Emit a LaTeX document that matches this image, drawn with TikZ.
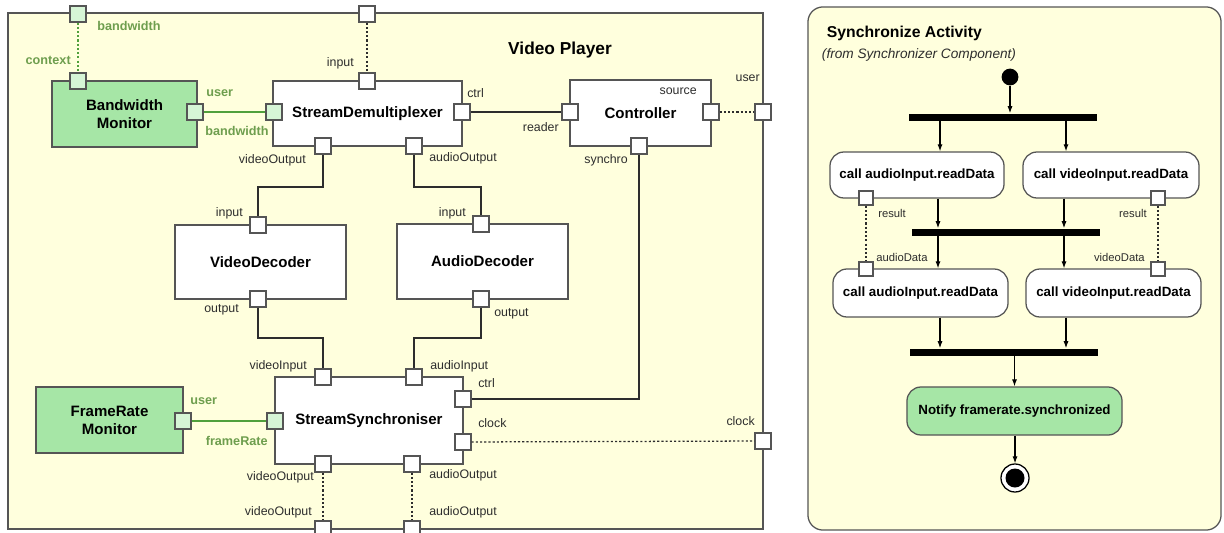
\documentclass[tikz,border=0pt]{standalone}
\usepackage{fontspec}
\setmainfont{Liberation Sans}
\usetikzlibrary{arrows.meta, positioning}
\definecolor{playerbg}{RGB}{255,255,221}
\definecolor{monitorgreen}{RGB}{166,230,166}
\definecolor{pingreen}{RGB}{214,245,214}
\definecolor{labelgreen}{RGB}{110,158,78}
\definecolor{linegreen}{RGB}{80,160,60}
\definecolor{edgegray}{RGB}{85,85,85}
\definecolor{textgray}{RGB}{45,45,45}

\begin{document}
\begin{tikzpicture}[
    x=0.025cm, y=-0.025cm,
    compbox/.style={draw=edgegray, line width=0.9pt, fill=white, align=center, inner sep=0pt, font=\fontsize{10.7}{12.8}\selectfont\bfseries},
    monbox/.style={compbox, fill=monitorgreen},
    port/.style={draw=edgegray, line width=0.8pt, fill=white, minimum size=0.4cm, inner sep=0pt},
    gport/.style={port, fill=pingreen},
    portlbl/.style={font=\fontsize{8.8}{10}\selectfont, text=textgray, inner sep=0pt},
    greenlbl/.style={font=\fontsize{9}{10}\selectfont\bfseries, text=labelgreen, inner sep=0pt},
    wire/.style={draw=textgray, line width=0.9pt},
    dotline/.style={wire, dash pattern=on 1.5pt off 1.5pt},
    greenwire/.style={draw=linegreen, line width=0.9pt},
    greendot/.style={greenwire, dash pattern=on 1.5pt off 1.5pt},
    actbox/.style={draw=edgegray, line width=0.9pt, fill=white, rounded corners=0.35cm, inner sep=0pt, minimum height=1.2cm, font=\fontsize{9.5}{11}\selectfont\bfseries},
    actpin/.style={draw=edgegray, line width=0.8pt, fill=white, minimum size=0.35cm, inner sep=0pt},
    forkbar/.style={fill=black, minimum width=4.7cm, minimum height=0.175cm, inner sep=0pt},
    pinlbl/.style={font=\fontsize{8}{9}\selectfont, text=textgray, inner sep=0pt},
    arrow/.style={-{Latex[length=5pt,width=3.6pt]}, line width=0.8pt}
]
\useasboundingbox (0,0) rectangle (1224,533);

% Video player
\node (player) [draw=edgegray, line width=0.9pt, fill=playerbg, minimum width=18.875cm, minimum height=12.9cm] at (385.5,271) {};
\node (title) [font=\fontsize{12.3}{14}\selectfont\bfseries] at (560,50) {Video Player};

\node (bwmon) [monbox, minimum width=3.625cm, minimum height=1.65cm] at (124.5,114) {Bandwidth\\Monitor};
\node (demux) [compbox, minimum width=4.725cm, minimum height=1.625cm] at (367.5,113.5) {StreamDemultiplexer};
\node (ctrlr) [compbox, minimum width=3.525cm, minimum height=1.65cm] at (640.5,113) {Controller};
\node (vdec) [compbox, minimum width=4.275cm, minimum height=1.85cm] at (260.5,262) {VideoDecoder};
\node (adec) [compbox, minimum width=4.275cm, minimum height=1.875cm] at (482.5,261.5) {AudioDecoder};
\node (sync) [compbox, minimum width=4.7cm, minimum height=2.175cm] at (369,420.5) {StreamSynchroniser};
\node (frmon) [monbox, minimum width=3.675cm, minimum height=1.65cm] at (109.5,420) {FrameRate\\Monitor};

% Ports
\node (pbw) [gport] at (78,14) {};
\node (pinput) [port] at (367,14) {};
\node (puser) [port] at (763,112) {};
\node (pclock) [port] at (763,441) {};
\node (pvout) [port] at (323,529) {};
\node (paout) [port] at (412,529) {};
\node (bwctx) [gport] at (78,81) {};
\node (bwuser) [gport] at (195,112) {};
\node (dxbw) [gport] at (274,112) {};
\node (dxin) [port] at (367,81) {};
\node (dxctrl) [port] at (462,112) {};
\node (dxvout) [port] at (323,146) {};
\node (dxaout) [port] at (414,146) {};
\node (ctreader) [port] at (570,112) {};
\node (ctsource) [port] at (711,112) {};
\node (ctsynchro) [port] at (639,146) {};
\node (vdin) [port] at (258,225) {};
\node (vdout) [port] at (258,299) {};
\node (adin) [port] at (481,224) {};
\node (adout) [port] at (481,299) {};
\node (syvin) [port] at (323,377) {};
\node (syain) [port] at (414,377) {};
\node (syctrl) [port] at (463,399) {};
\node (syclock) [port] at (463,442) {};
\node (syvout) [port] at (323,464) {};
\node (syaout) [port] at (412,464) {};
\node (syfr) [gport] at (275,421) {};
\node (frmuser) [gport] at (183,421) {};

% Port labels
\node [greenlbl, anchor=west] at (97,26) {bandwidth};
\node [greenlbl, anchor=east] at (71,60) {context};
\node [greenlbl, anchor=west] at (206,93) {user};
\node [greenlbl, anchor=west] at (205,131) {bandwidth};
\node [greenlbl, anchor=west] at (190,401) {user};
\node [greenlbl, anchor=east] at (268,441) {frameRate};
\node [portlbl, anchor=east] at (354,63) {input};
\node [portlbl, anchor=west] at (467,93) {ctrl};
\node [portlbl, anchor=east] at (306,160) {videoOutput};
\node [portlbl, anchor=west] at (429,158) {audioOutput};
\node [portlbl, anchor=east] at (559,127) {reader};
\node [portlbl, anchor=east] at (697,91) {source};
\node [portlbl, anchor=east] at (628,160) {synchro};
\node [portlbl, anchor=east] at (760,78) {user};
\node [portlbl, anchor=east] at (243,213) {input};
\node [portlbl, anchor=east] at (239,310) {output};
\node [portlbl, anchor=east] at (466,213) {input};
\node [portlbl, anchor=west] at (494,314) {output};
\node [portlbl, anchor=east] at (307,366) {videoInput};
\node [portlbl, anchor=west] at (430,366) {audioInput};
\node [portlbl, anchor=west] at (478,383) {ctrl};
\node [portlbl, anchor=west] at (478,423) {clock};
\node [portlbl, anchor=east] at (314,477) {videoOutput};
\node [portlbl, anchor=west] at (429,475) {audioOutput};
\node [portlbl, anchor=east] at (312,512) {videoOutput};
\node [portlbl, anchor=west] at (429,512) {audioOutput};
\node [portlbl, anchor=east] at (755,421) {clock};

% Connectors
\draw [greendot] (pbw) -- (bwctx);
\draw [greenwire] (bwuser) -- (dxbw);
\draw [greenwire] (frmuser) -- (syfr);
\draw [dotline] (pinput) -- (dxin);
\draw [wire] (dxctrl) -- (ctreader);
\draw [dotline] (ctsource) -- (puser);
\draw [wire] (dxvout.south) -- (dxvout.south |- 0,187) -| (vdin.north);
\draw [wire] (dxaout.south) -- (dxaout.south |- 0,187) -| (adin.north);
\draw [wire] (vdout.south) -- (vdout.south |- 0,338) -| (syvin.north);
\draw [wire] (adout.south) -- (adout.south |- 0,338) -| (syain.north);
\draw [wire] (ctsynchro.south) |- (syctrl.east);
\draw [dotline] (syclock) -- (pclock);
\draw [dotline] (syvout) -- (pvout);
\draw [dotline] (syaout) -- (paout);

% Activity
\node (activity) [draw=edgegray, line width=0.9pt, fill=playerbg, rounded corners=0.375cm, minimum width=10.325cm, minimum height=13.075cm] at (1014.5,268.5) {};
\node [anchor=west, font=\fontsize{11.2}{13}\selectfont\bfseries] at (822,33) {Synchronize Activity};
\node [anchor=west, font=\fontsize{9.7}{11}\selectfont\itshape, text=textgray] at (817,55) {(from Synchronizer Component)};

\node (init) [circle, fill=black, minimum size=0.42cm, inner sep=0pt] at (1010,77) {};
\node (fork1) [forkbar] at (1003,117) {};
\node (act1) [actbox, minimum width=4.35cm, minimum height=1.15cm] at (917,175) {call audioInput.readData};
\node (act2) [actbox, minimum width=4.4cm, minimum height=1.15cm] at (1111,175) {call videoInput.readData};
\node (fork2) [forkbar] at (1006,232) {};
\node (act3) [actbox, minimum width=4.375cm] at (920.5,293) {call audioInput.readData};
\node (act4) [actbox, minimum width=4.375cm] at (1113.5,293) {call videoInput.readData};
\node (join) [forkbar] at (1004,352) {};
\node (notify) [actbox, fill=monitorgreen, minimum width=5.375cm] at (1014.5,411) {Notify framerate.synchronized};
\node (final) [circle, draw=black, line width=0.9pt, fill=white, minimum size=0.7cm, inner sep=0pt] at (1015,478) {};
\node (finaldot) [circle, fill=black, minimum size=0.475cm, inner sep=0pt] at (final) {};

\node (res1) [actpin] at (866,198) {};
\node (res2) [actpin] at (1158,198) {};
\node (adata) [actpin] at (866,269) {};
\node (vdata) [actpin] at (1158,269) {};
\node [pinlbl, anchor=west] at (878,213) {result};
\node [pinlbl, anchor=east] at (1147,213) {result};
\node [pinlbl, anchor=west] at (876,257) {audioData};
\node [pinlbl, anchor=east] at (1145,257) {videoData};

\draw [arrow] (init) -- (init |- fork1.north);
\draw [arrow] (fork1.south -| 940,0) -- (act1.north -| 940,0);
\draw [arrow] (fork1.south -| 1066,0) -- (act2.north -| 1066,0);
\draw [arrow] (act1.south -| 938,0) -- (fork2.north -| 938,0);
\draw [arrow] (act2.south -| 1064,0) -- (fork2.north -| 1064,0);
\draw [arrow] (fork2.south -| 938,0) -- (act3.north -| 938,0);
\draw [arrow] (fork2.south -| 1064,0) -- (act4.north -| 1064,0);
\draw [arrow] (act3.south -| 940,0) -- (join.north -| 940,0);
\draw [arrow] (act4.south -| 1066,0) -- (join.north -| 1066,0);
\draw [arrow] (join.south -| notify.north) -- (notify.north);
\draw [arrow] (notify.south -| final.north) -- (final.north);
\draw [dotline] (res1) -- (adata);
\draw [dotline] (res2) -- (vdata);

\end{tikzpicture}
\end{document}
